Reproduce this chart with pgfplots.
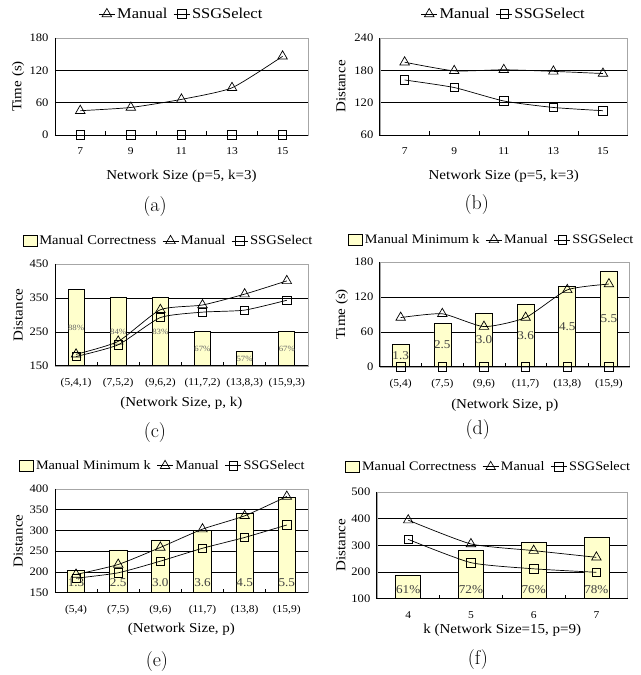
\documentclass[border=0pt]{standalone}
\usepackage{fontspec}
\usepackage{pgfplots}
\pgfplotsset{compat=1.18}
\newfontfamily\tnr{Liberation Serif}[FakeStretch=1.1]
\definecolor{baryel}{HTML}{FFFFCC}
\pgfplotsset{
 myax/.style={scale only axis, anchor=south west, clip mode=individual,
  axis line style={draw=gray!70, line width=0.6bp},
  tick pos=left, tick align=inside, major tick length=0pt, minor tick length=4bp,
  minor x tick num=1, minor tick style={black, line width=0.6bp},
  ymajorgrids, grid style={black, line width=0.6bp},
  /pgf/number format/assume math mode=true,
  yticklabel style={font=\tnr\fontsize{11.5}{13}\selectfont, xshift=-3bp},
  xticklabel style={font=\tnr\fontsize{10.5}{12}\selectfont, yshift=-9bp},
  xlabel style={font=\tnr\fontsize{13.7}{16}\selectfont, at={(axis description cs:0.5,0)}, anchor=center},
  ylabel style={font=\tnr\fontsize{13.7}{16}\selectfont, anchor=center},
  legend style={draw=none, fill=none, legend columns=-1, anchor=center, inner sep=0pt,
    /tikz/every even column/.append style={column sep=4bp}},
  legend image code/.code={\draw[mark repeat=2,mark phase=2,##1] plot coordinates {(0bp,0bp)(8bp,0bp)(16bp,0bp)};},
  after end axis/.code={\draw[black, line width=0.8bp] (rel axis cs:0,1) -- (rel axis cs:0,0) -- (rel axis cs:1,0);},
 },
 tri/.style={black, line width=0.7bp, smooth, tension=0.35, mark=triangle, mark size=5.5bp, mark options={fill=white, solid}},
 sq/.style={black, line width=0.7bp, smooth, tension=0.35, mark=square, mark size=4.2bp, mark options={fill=white, solid}},
 bars/.style={ybar, bar width=#1, fill=baryel, draw=black, line width=0.6bp,
   legend image code/.code={\draw[##1] (0bp,-5bp) rectangle (14bp,6bp);}},
 lbl/.style={draw=none, mark=none, forget plot, nodes near coords, point meta=explicit symbolic,
   every node near coord/.append style={anchor=center, #1}},
}
\begin{document}
\begin{tikzpicture}
\path (0,0) rectangle (641bp,675bp);
% (a)
\begin{axis}[myax, at={(55bp,540bp)}, width=253bp, height=97bp,
  xmin=-0.5, xmax=4.5, ymin=0, ymax=180, ytick={0,60,120,180},
  xtick={0,...,4}, xticklabels={7,9,11,13,15},
  xlabel={Network Size (p=5, k=3)}, ylabel={Time (s)},
  xlabel style={yshift=-41bp}, ylabel style={at={(axis description cs:-0.146,0.5)}},
  legend style={at={(0.5,1)}, yshift=24bp, font=\tnr\fontsize{15}{17}\selectfont}]
\addplot[tri] coordinates {(0,45)(1,51)(2,66)(3,87.5)(4,146)};
\addplot[sq] coordinates {(0,0)(1,0)(2,0)(3,0)(4,0)};
\legend{Manual, SSGSelect}
\end{axis}
% (b)
\begin{axis}[myax, at={(380bp,540bp)}, width=248bp, height=97bp,
  xmin=-0.5, xmax=4.5, ymin=60, ymax=240, ytick={60,120,180,240},
  xtick={0,...,4}, xticklabels={7,9,11,13,15},
  xlabel={Network Size (p=5, k=3)}, ylabel={Distance},
  xlabel style={yshift=-41bp}, ylabel style={at={(axis description cs:-0.157,0.5)}},
  legend style={at={(0.5,1)}, yshift=24bp, font=\tnr\fontsize{15}{17}\selectfont}]
\addplot[tri] coordinates {(0,195)(1,179)(2,181)(3,178)(4,174)};
\addplot[sq] coordinates {(0,162)(1,148)(2,123)(3,111)(4,105)};
\legend{Manual, SSGSelect}
\end{axis}
% (c)
\begin{axis}[myax, at={(55bp,309bp)}, width=253bp, height=102bp,
  xmin=-0.5, xmax=5.5, ymin=150, ymax=450, ytick={150,250,350,450},
  xtick={0,...,5}, xticklabels={{(5,4,1)},{(7,5,2)},{(9,6,2)},{(11,7,2)},{(13,8,3)},{(15,9,3)}},
  xlabel={(Network Size, p, k)}, ylabel={Distance},
  xlabel style={yshift=-37bp}, ylabel style={at={(axis description cs:-0.146,0.5)}},
  legend style={at={(0.449,1)}, yshift=23bp, font=\tnr\fontsize{13.3}{15}\selectfont}]
\addplot[bars=16bp] coordinates {(0,375)(1,353)(2,352)(3,251)(4,193)(5,251)};
\addplot[tri] coordinates {(0,184)(1,222)(2,315)(3,329)(4,361)(5,400)};
\addplot[sq] coordinates {(0,177.5)(1,212)(2,292)(3,308)(4,314)(5,343)};
\addplot[lbl={font=\tnr\fontsize{8}{9}\selectfont, text=black!60}] coordinates {(0,262)[88\%] (1,251)[84\%] (2,251)[83\%] (3,200)[67\%] (4,171)[57\%] (5,200)[67\%]};
\legend{Manual Correctness, Manual, SSGSelect}
\end{axis}
% (d)
\begin{axis}[myax, at={(380bp,308bp)}, width=250bp, height=105bp,
  xmin=-0.5, xmax=5.5, ymin=0, ymax=180, ytick={0,60,120,180},
  xtick={0,...,5}, xticklabels={{(5,4)},{(7,5)},{(9,6)},{(11,7)},{(13,8)},{(15,9)}},
  xlabel={(Network Size, p)}, ylabel={Time (s)},
  xlabel style={yshift=-38bp}, ylabel style={at={(axis description cs:-0.152,0.5)}},
  legend style={at={(0.448,1)}, yshift=22bp, font=\tnr\fontsize{13}{15}\selectfont}]
\addplot[bars=17bp] coordinates {(0,39)(1,75)(2,92)(3,108)(4,137.5)(5,164.5)};
\addplot[tri] coordinates {(0,84.5)(1,91)(2,69)(3,84.5)(4,132)(5,142)};
\addplot[sq] coordinates {(0,0)(1,0)(2,0)(3,0)(4,0)(5,0)};
\addplot[lbl={font=\tnr\fontsize{12}{13}\selectfont, text=black!75}] coordinates {(0,19.5)[1.3] (1,37.5)[2.5] (2,46)[3.0] (3,54)[3.6] (4,69)[4.5] (5,82)[5.5]};
\legend{Manual Minimum k, Manual, SSGSelect}
\end{axis}
% (e)
\begin{axis}[myax, at={(55bp,82bp)}, width=253bp, height=104bp,
  xmin=-0.5, xmax=5.5, ymin=150, ymax=400, ytick={150,200,...,400},
  xtick={0,...,5}, xticklabels={{(5,4)},{(7,5)},{(9,6)},{(11,7)},{(13,8)},{(15,9)}},
  xlabel={(Network Size, p)}, ylabel={Distance},
  xlabel style={yshift=-36bp}, ylabel style={at={(axis description cs:-0.146,0.5)}},
  legend style={at={(0.427,1)}, yshift=23bp, font=\tnr\fontsize{13}{15}\selectfont}]
\addplot[bars=17.5bp] coordinates {(0,203)(1,253)(2,277)(3,299.5)(4,341)(5,379)};
\addplot[tri] coordinates {(0,194)(1,218)(2,259)(3,303)(4,335)(5,381.5)};
\addplot[sq] coordinates {(0,185)(1,198)(2,226)(3,257)(4,283)(5,313)};
\addplot[lbl={font=\tnr\fontsize{12}{13}\selectfont, text=black!75}] coordinates {(0,174)[1.3] (1,174)[2.5] (2,174)[3.0] (3,174)[3.6] (4,174)[4.5] (5,174)[5.5]};
\legend{Manual Minimum k, Manual, SSGSelect}
\end{axis}
% (f)
\begin{axis}[myax, at={(377bp,76bp)}, width=251bp, height=107bp,
  xmin=-0.5, xmax=3.5, ymin=100, ymax=500, ytick={100,200,...,500},
  xtick={0,...,3}, xticklabels={4,5,6,7},
  xlabel={k (Network Size=15, p=9)}, ylabel={Distance},
  xlabel style={yshift=-31bp}, ylabel style={at={(axis description cs:-0.143,0.5)}},
  legend style={at={(0.446,1)}, yshift=25bp, font=\tnr\fontsize{13}{15}\selectfont}]
\addplot[bars=25bp] coordinates {(0,189)(1,280)(2,311)(3,329)};
\addplot[tri] coordinates {(0,394)(1,305)(2,280)(3,255)};
\addplot[sq] coordinates {(0,322)(1,235)(2,212)(3,199)};
\addplot[lbl={font=\tnr\fontsize{12}{13}\selectfont, text=black!75}] coordinates {(0,136)[61\%] (1,136)[72\%] (2,136)[76\%] (3,136)[78\%]};
\legend{Manual Correctness, Manual, SSGSelect}
\end{axis}
% captions
\node[font=\fontsize{20}{24}\selectfont] at (155bp,468bp) {(a)};
\node[font=\fontsize{20}{24}\selectfont] at (477bp,470bp) {(b)};
\node[font=\fontsize{20}{24}\selectfont] at (155bp,242bp) {(c)};
\node[font=\fontsize{20}{24}\selectfont] at (478bp,245bp) {(d)};
\node[font=\fontsize{20}{24}\selectfont] at (157bp,13bp) {(e)};
\node[font=\fontsize{20}{24}\selectfont] at (478bp,15bp) {(f)};
\end{tikzpicture}
\end{document}
